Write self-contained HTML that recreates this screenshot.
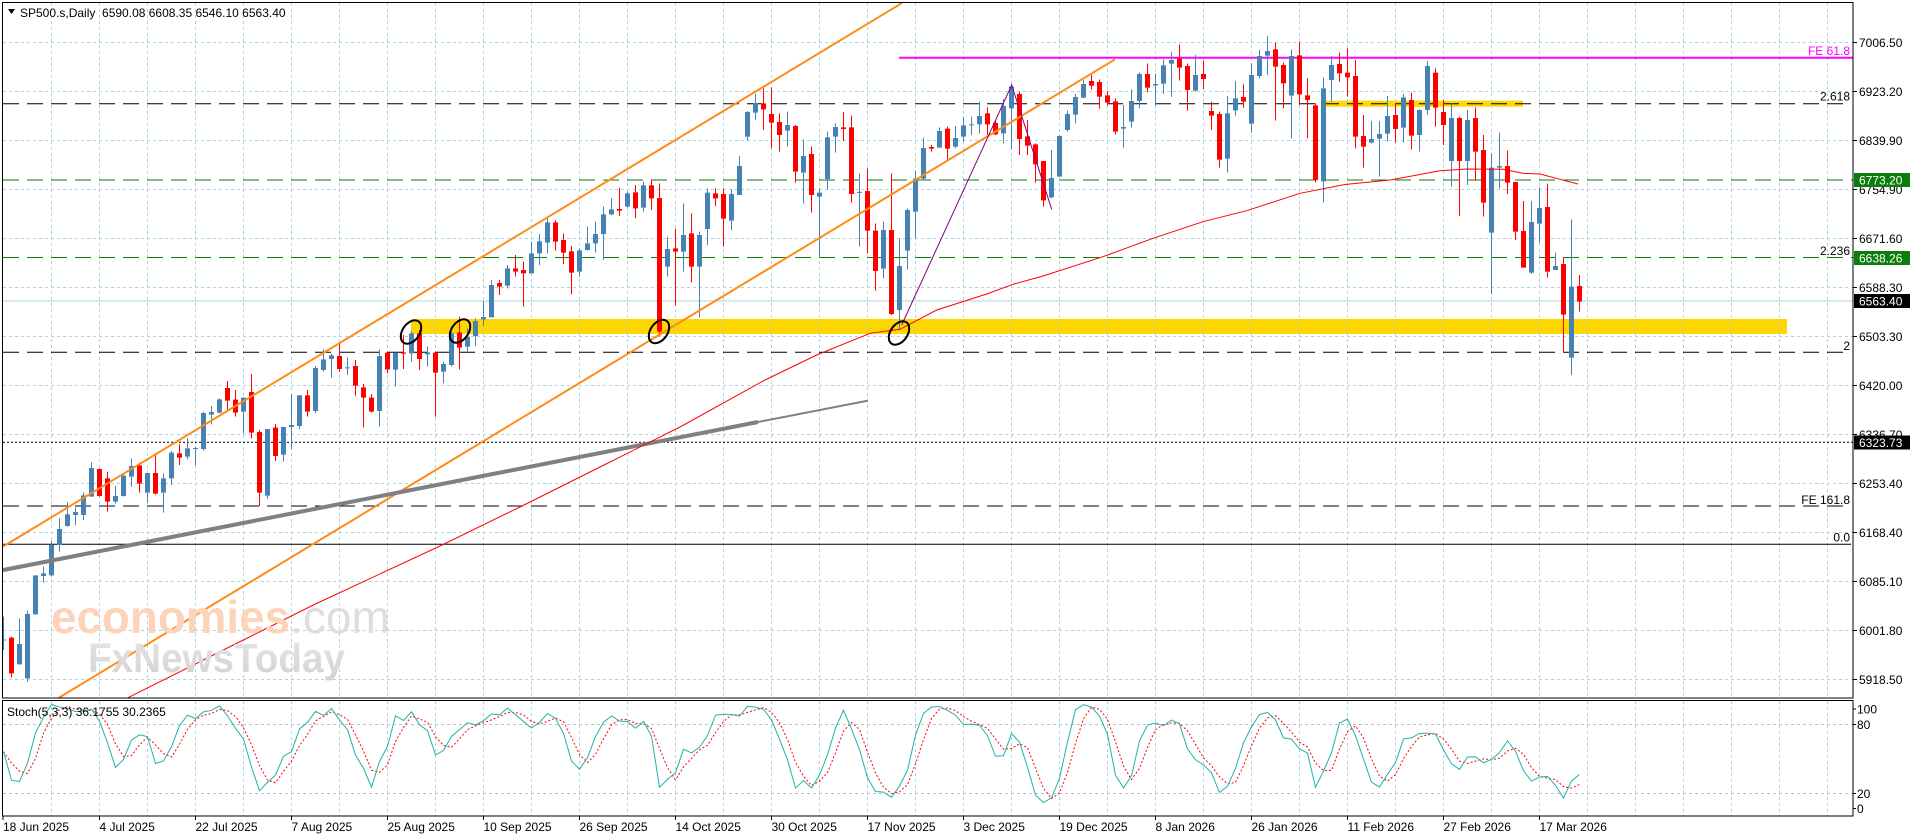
<!DOCTYPE html>
<html><head><meta charset="utf-8">
<style>
html,body{margin:0;padding:0;background:#fff;overflow:hidden;}
svg{display:block;font-family:"Liberation Sans",Arial,sans-serif;font-size:12px;}
</style></head><body>
<svg id="s" width="1916" height="840" viewBox="0 0 1916 840" xmlns="http://www.w3.org/2000/svg">
<defs>
<clipPath id="cm"><rect x="3" y="3" width="1850" height="695"/></clipPath>
<clipPath id="cs"><rect x="3" y="701" width="1850" height="115"/></clipPath>
<linearGradient id="wg" x1="0" y1="0" x2="0" y2="1"><stop offset="0" stop-color="#e6e6e6"/><stop offset="1" stop-color="#d2d2d2"/></linearGradient>
</defs>
<rect width="1916" height="840" fill="#fff"/>
<g clip-path="url(#cm)">
  <!-- yellow bands -->
  <rect x="411" y="319" width="1376" height="15" fill="#ffd700"/>
  <rect x="1325" y="100.7" width="198" height="6" fill="#ffd700"/>
  <g id="gridm"></g>
  <!-- level lines -->
  <line x1="3" y1="103.7" x2="1850" y2="103.7" stroke="#000" stroke-dasharray="16,8"/>
  <line x1="3" y1="180" x2="1853" y2="180" stroke="#0a7d0a" stroke-dasharray="16,8"/>
  <line x1="3" y1="257.5" x2="1853" y2="257.5" stroke="#0a7d0a" stroke-dasharray="16,8"/>
  <line x1="3" y1="301" x2="1853" y2="301" stroke="#a9d6dc"/>
  <line x1="3" y1="352.3" x2="1850" y2="352.3" stroke="#000" stroke-dasharray="16,8"/>
  <line x1="3" y1="442.3" x2="1853" y2="442.3" stroke="#000" stroke-dasharray="2,2"/>
  <line x1="3" y1="506" x2="1850" y2="506" stroke="#000" stroke-dasharray="16,8"/>
  <line x1="3" y1="544.3" x2="1851" y2="544.3" stroke="#000"/>
  <line x1="899" y1="57.7" x2="1853" y2="57.7" stroke="#ff00ff" stroke-width="2"/>
  <g id="candles"></g>
  <!-- trend lines -->
  <line x1="3" y1="546.6" x2="902" y2="3" stroke="#ff8c1a" stroke-width="2"/>
  <line x1="58.5" y1="698" x2="1115" y2="59.3" stroke="#ff8c1a" stroke-width="2"/>
  <line x1="3" y1="570.1" x2="758" y2="422" stroke="#808080" stroke-width="4"/>
  <line x1="756" y1="422.4" x2="868" y2="400.6" stroke="#808080" stroke-width="2"/>
  <polyline fill="none" stroke="#ff0000" stroke-width="1" points="126.7,698.3 233.3,645 313.3,605 440,546 520,507 600,467 680,427 765,380 816.7,355 870,333.3 900,329.3 936.7,310 986.7,294 1013,284.3 1043,276 1103,256.7 1153,238.3 1203,221.7 1246.7,210.7 1300,193.3 1345,184.5 1390,180 1440,170.7 1466.7,169 1503,169.3 1523,173.3 1540,174 1560,179.3 1578,184"/>
  <polyline fill="none" stroke="#800080" stroke-width="1" points="901.7,325 1011.7,85 1051.7,209.3"/>
  <g fill="none" stroke="#000" stroke-width="2">
    <ellipse cx="411" cy="332" rx="13" ry="8.5" transform="rotate(-55 411 332)"/>
    <ellipse cx="460" cy="331" rx="13" ry="8.5" transform="rotate(-55 460 331)"/>
    <ellipse cx="659" cy="331.5" rx="13" ry="8.5" transform="rotate(-55 659 331.5)"/>
    <ellipse cx="899" cy="333" rx="13" ry="8.5" transform="rotate(-55 899 333)"/>
  </g>
  <!-- watermark (on top) -->
  <text x="51" y="633" font-size="46" font-weight="bold" fill="#fdd4b9" textLength="239" lengthAdjust="spacingAndGlyphs">economies</text>
  <text x="290" y="633" font-size="46" fill="#dedede" textLength="100" lengthAdjust="spacingAndGlyphs">.com</text>
  <text x="88" y="672" font-size="41" font-weight="bold" fill="url(#wg)" textLength="257" lengthAdjust="spacingAndGlyphs">FxNewsToday</text>
  <!-- level labels -->
  <text x="1850" y="55" text-anchor="end" fill="#ff00ff">FE 61.8</text>
  <text x="1850" y="100.5" text-anchor="end">2.618</text>
  <text x="1850" y="255" text-anchor="end">2.236</text>
  <text x="1850" y="350" text-anchor="end">2</text>
  <text x="1850" y="504" text-anchor="end">FE 161.8</text>
  <text x="1850" y="541.5" text-anchor="end">0.0</text>
</g>
<g clip-path="url(#cs)">
  <g id="grids"></g>
  <line x1="3" y1="724.5" x2="1853" y2="724.5" stroke="#c0c0c0" stroke-dasharray="3,3"/>
  <line x1="3" y1="793.5" x2="1853" y2="793.5" stroke="#c0c0c0" stroke-dasharray="3,3"/>
  <polyline id="sd" fill="none" stroke="#ff0000" stroke-width="1" stroke-dasharray="2,2"/>
  <polyline id="sk" fill="none" stroke="#20b2aa" stroke-width="1"/>
</g>
<!-- frames -->
<rect x="2.5" y="2.5" width="1850.5" height="695.5" fill="none" stroke="#000"/>
<rect x="2.5" y="700.5" width="1850.5" height="115.5" fill="none" stroke="#000"/>
<!-- title -->
<polygon points="8,9 15,9 11.5,14" fill="#000"/>
<text x="20" y="17">SP500.s,Daily&#160;&#160;6590.08 6608.35 6546.10 6563.40</text>
<text x="7" y="716">Stoch(5,3,3) 36.1755 30.2365</text>
<g id="axis"></g>
<!-- colored price boxes -->
<rect x="1854" y="173" width="56" height="14" fill="#0a7d0a"/>
<text x="1859" y="184.5" fill="#fff">6773.20</text>
<rect x="1854" y="251" width="56" height="14" fill="#0a7d0a"/>
<text x="1859" y="262.5" fill="#fff">6638.26</text>
<rect x="1854" y="294" width="56" height="14" fill="#000"/>
<text x="1859" y="305.5" fill="#fff">6563.40</text>
<rect x="1854" y="435.5" width="56" height="14" fill="#000"/>
<text x="1859" y="447" fill="#fff">6323.73</text>
<!-- stoch axis -->
<text x="1857" y="713.5">100</text>
<text x="1857" y="729">80</text>
<text x="1857" y="798">20</text>
<text x="1857" y="813">0</text>
<line x1="1853" y1="709" x2="1856" y2="709" stroke="#000"/>
<line x1="1853" y1="724.5" x2="1856" y2="724.5" stroke="#000"/>
<line x1="1853" y1="793.5" x2="1856" y2="793.5" stroke="#000"/>
<line x1="1853" y1="808.5" x2="1856" y2="808.5" stroke="#000"/>
</svg>
<script>
(function(){
var NS='http://www.w3.org/2000/svg';
function el(tag,a,p){var e=document.createElementNS(NS,tag);for(var k in a)e.setAttribute(k,a[k]);p.appendChild(e);return e;}
var gm=document.getElementById('gridm'),gs=document.getElementById('grids');
var gp='',gps='';
for(var k=0;k<=37;k++){var x=51.5+48*k;gp+='M'+x+' 3V698';gps+='M'+x+' 701V816';}
for(var j=0;j<=13;j++){var y=42.5+49*j;gp+='M3 '+y+'H1853';}
el('path',{d:gp,stroke:'#a9d5dc','stroke-dasharray':'3,3',fill:'none'},gm);
el('path',{d:gps,stroke:'#a9d5dc','stroke-dasharray':'3,3',fill:'none'},gs);
var ax=document.getElementById('axis');
var labs=['7006.50','6923.20','6839.90','6754.90','6671.60','6588.30','6503.30','6420.00','6336.70','6253.40','6168.40','6085.10','6001.80','5918.50'];
for(var j=0;j<labs.length;j++){var y=42.5+49*j;el('line',{x1:1853,y1:y,x2:1857,y2:y,stroke:'#000'},ax);var t=el('text',{x:1859,y:y+4.5},ax);t.textContent=labs[j];}
var dates=['18 Jun 2025','4 Jul 2025','22 Jul 2025','7 Aug 2025','25 Aug 2025','10 Sep 2025','26 Sep 2025','14 Oct 2025','30 Oct 2025','17 Nov 2025','3 Dec 2025','19 Dec 2025','8 Jan 2026','26 Jan 2026','11 Feb 2026','27 Feb 2026','17 Mar 2026'];
for(var j=0;j<dates.length;j++){var x=j==0?3:51.5+48*(2*j-1);el('line',{x1:x,y1:816,x2:x,y2:820,stroke:'#000'},ax);var t=el('text',{x:x,y:831},ax);t.textContent=dates[j];}
var A=[[950,1019,1021,1050,1],[1010,1013,1120,1133,0],[955,1032,1093,1093,1],[932,942,1135,1145,1],[826,826,943,943,1],[800,820,828,848,1],[722,735,826,830,1],[655,687,735,755,1],[607,643,678,680,1],[622,636,645,675,1],[578,586,645,660,1],[487,504,590,590,1],[505,507,588,590,0],[515,535,605,635,0],[558,588,605,610,1],[520,527,588,590,1],[476,498,530,560,1],[488,496,551,578,0],[519,519,578,608,1],[459,519,581,583,0],[520,535,578,638,1],[452,458,535,555,1],[433,460,473,495,0],[415,445,470,478,1],[440,444,447,495,1],[335,339,447,452,1],[318,336,344,373,1],[295,298,338,340,1],[243,264,302,330,0],[270,299,338,350,0],[292,293,335,400,1],[222,276,398,415,0],[390,396,578,618,0],[387,387,587,597,1],[372,383,468,483,0],[380,381,464,485,1],[283,375,381,447,1],[285,286,378,387,1],[270,286,335,350,0],[198,204,333,340,1],[148,178,210,215,1],[160,166,177,233,1],[130,168,207,215,0],[172,202,205,225,1],[180,198,257,287,0],[252,262,293,382,0],[282,293,335,337,0],[148,168,333,380,1],[158,158,208,220,0],[157,158,209,260,1],[105,157,161,207,0],[92,100,160,185,1],[90,100,177,210,0],[140,157,163,200,1],[158,158,218,350,0]];
var B=[[845,852,875,910,1],[755,760,855,860,1],[710,757,803,868,0],[745,770,800,815,1],[715,723,768,798,1],[663,711,718,738,1],[600,615,712,712,1],[600,609,620,645,0],[555,565,617,625,1],[525,565,575,590,0],[545,570,580,680,0],[485,520,580,580,1],[462,484,520,555,1],[410,427,488,520,1],[420,427,485,512,0],[460,480,518,552,0],[498,514,578,643,0],[505,511,575,590,1],[440,490,510,512,1],[425,462,490,518,1],[380,403,462,540,1],[355,388,403,405,1],[323,387,392,408,0],[335,340,380,383,1],[315,337,385,415,0],[305,316,383,395,1],[298,316,355,390,0],[310,354,755,770,0],[470,507,560,590,1],[447,505,515,677,0],[370,465,515,575,1],[400,460,560,607,0],[455,465,560,713,1],[325,338,447,495,1],[325,340,355,378,0],[325,342,416,500,0],[328,342,422,450,1],[228,258,345,345,1],[93,96,170,182,1],[42,70,98,120,1],[25,70,88,150,0],[22,102,128,205,0],[100,126,165,215,0],[95,135,152,200,1],[135,138,275,308,0],[178,228,278,370,1],[200,222,345,398,0],[325,338,350,530,1],[155,172,297,328,1],[130,141,170,218,1],[96,142,147,183,0],[107,142,342,368,0],[280,336,338,500,1],[265,333,452,520,0],[430,452,573,632,0]];
var C=[[605,630,746,775,1],[460,630,882,885,0],[655,738,870,930,1],[565,570,692,748,1],[452,475,575,655,1],[353,384,476,480,1],[375,381,386,395,0],[322,333,383,383,1],[320,326,386,420,0],[318,354,380,385,1],[290,316,350,365,1],[290,313,316,345,1],[245,288,313,340,1],[262,280,313,345,0],[300,309,343,345,0],[237,258,340,370,1],[192,200,265,388,1],[215,222,357,405,0],[300,349,377,405,0],[370,373,433,488,0],[423,423,541,560,0],[390,474,532,535,1],[345,348,470,470,1],[272,282,330,335,1],[222,231,284,310,1],[180,192,233,235,1],[165,183,197,208,0],[178,186,230,266,0],[213,226,248,256,0],[235,244,335,343,0],[255,321,326,383,1],[208,243,305,323,1],[157,162,243,265,1],[130,162,203,217,0],[160,192,196,257,1],[118,136,191,222,1],[96,120,131,230,1],[74,116,143,182,0],[130,138,210,272,0],[105,165,212,215,1],[122,162,177,207,0],[245,273,287,330,0],[275,282,419,443,0],[228,280,416,458,1],[183,235,271,287,1],[193,231,245,263,0],[130,165,311,338,1],[90,108,168,175,1],[48,93,107,165,1],[68,88,140,302,0],[128,135,190,265,0],[88,108,227,355,1],[66,106,223,255,0],[175,226,240,355,0],[250,256,480,487,0],[172,205,484,547,1],[108,135,180,245,1],[98,132,160,185,0],[85,158,172,230,0]];
var D=[[120,168,350,385,0],[285,348,380,443,0],[303,357,368,370,1],[303,342,356,470,1],[228,288,341,365,1],[250,285,327,368,0],[222,232,323,368,1],[218,240,347,388,0],[268,270,345,395,1],[123,138,270,285,1],[145,158,263,320,0],[240,276,315,375,0],[250,294,423,500,1],[290,294,423,588,0],[270,300,423,495,1],[262,294,395,482,0],[345,390,548,590,0],[400,443,638,822,1],[338,438,443,505,1],[392,438,488,522,0],[486,486,635,660,0],[543,633,743,743,0],[543,606,758,762,1],[503,564,611,668,1],[491,561,755,773,0],[698,738,750,750,1],[712,732,884,998,0],[598,800,1013,1065,1],[765,798,845,875,0]];
var bars=[];
function add(arr,off){for(var i=0;i<arr.length;i++){var b=arr[i];bars.push([off+b[0]/3,off+b[1]/3,off+b[2]/3,off+b[3]/3,b[4]]);}}
add(A,300);add(B,80);add(C,20);add(D,20);
var bw='',bb='',rw='',rb='';
for(var i=0;i<bars.length;i++){var b=bars[i];var xw=3+8*i,xb=1+8*i;
 var top=b[1],bot=b[2];if(bot-top<1){var m=(top+bot)/2;top=m-0.5;bot=m+0.5;}
 var w='M'+xw+' '+b[0].toFixed(2)+'h1V'+b[3].toFixed(2)+'h-1Z';
 var bd='M'+xb+' '+top.toFixed(2)+'h5V'+bot.toFixed(2)+'h-5Z';
 if(b[4]){bw+=w;bb+=bd;}else{rw+=w;rb+=bd;}}
var cg=document.getElementById('candles');
el('path',{d:bw,fill:'#4682b4'},cg);el('path',{d:bb,fill:'#4682b4'},cg);
el('path',{d:rw,fill:'#ff0000'},cg);el('path',{d:rb,fill:'#ff0000'},cg);
var n=bars.length,H=[],L=[],Cl=[];
for(var i=0;i<n;i++){H.push(bars[i][0]);L.push(bars[i][3]);Cl.push(bars[i][4]?bars[i][1]:bars[i][2]);}
var K=[56,31,30,46,72,86],Dd=[56,46,39,37,50,72];
function raw(i){var hh=1e9,ll=-1e9;for(var j=i-4;j<=i;j++){if(H[j]<hh)hh=H[j];if(L[j]>ll)ll=L[j];}return [ll-Cl[i],ll-hh];}
for(var i=6;i<n;i++){var num=0,den=0;for(var j=i-2;j<=i;j++){var r=raw(j);num+=r[0];den+=r[1];}K[i]=den>0?100*num/den:50;Dd[i]=(K[i]+K[i-1]+K[i-2])/3;}
var pk='',pd='';
for(var i=0;i<n;i++){var x=3.5+8*i;pk+=x+','+(816-K[i]*1.15).toFixed(2)+' ';pd+=x+','+(816-Dd[i]*1.15).toFixed(2)+' ';}
document.getElementById('sk').setAttribute('points',pk);
document.getElementById('sd').setAttribute('points',pd);
})();
</script>
</body></html>
